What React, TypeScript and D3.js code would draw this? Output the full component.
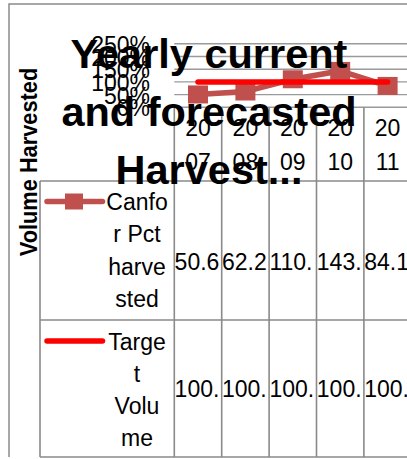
import React from "react";
import * as d3 from "d3";

const years = ["2007", "2008", "2009", "2010", "2011"];
const canforPct = [50.6, 62.2, 110.4, 143.2, 84.1];
const targetPct = [100.0, 100.0, 100.0, 100.0, 100.0];
const seriesNames = ["Canfor Pct harvested", "Target Volume"];
const seriesWrapped = [["Canfo", "r Pct", "harve", "sted"], ["Targe", "t", "Volu", "me"]];
const yTicks = [0, 50, 100, 150, 200, 250];
const titleLines = ["Yearly current", "and forecasted", "Harvest..."];
const yAxisTitle = "Volume Harvested";

const FONT = '"Liberation Sans", Arial, sans-serif';
const C1 = "#C0504D";
const C2 = "#FF0000";
const GRID = "#9a9a9a";
const LINE = "#8a8a8a";

let ctx: CanvasRenderingContext2D | null = null;
function measure(t: string, size: number) {
  if (!ctx) ctx = document.createElement("canvas").getContext("2d");
  if (!ctx) return t.length * size * 0.55;
  ctx.font = `${size}px ${FONT}`;
  return ctx.measureText(t).width;
}
function fit(t: string, size: number, w: number) {
  let s = t;
  while (s.length > 0 && measure(s, size) > w) s = s.slice(0, -1);
  return s;
}

export default function App() {
  const W = 407, H = 459;
  const x = d3.scaleBand<string>().domain(years).range([174.3, 411.3]).padding(0);
  const y = d3.scaleLinear().domain([0, 250]).range([107.3, 43.8]);
  const bw = x.bandwidth();
  const cx = (d: string) => (x(d) as number) + bw / 2;

  const line = d3.line<number>().x((_, i) => cx(years[i])).y((v) => y(v));

  const tableLeft = 40;
  const rowTop = [181, 320];
  const rowBottom = 457;
  const fs = 23;
  const valueBase = [270, 397];
  const legendY = [201.5, 341];
  const lineStep = 32.3;

  const colEdges = [...years.map((d) => x(d) as number), 411.3];

  return (
    <svg width={W} height={H} style={{ position: "absolute", left: 0, top: 0, background: "#fff" }}>
      <rect x={0} y={0} width={W} height={H} fill="#fff" />
      {/* outer border */}
      <path d={`M9,${rowBottom} V4 H${W + 5}`} fill="none" stroke={LINE} strokeWidth={1.5} />
      {/* gridlines */}
      {yTicks.map((t) => (
        <line key={t} x1={174.3} x2={W + 5} y1={y(t)} y2={y(t)} stroke={GRID} strokeWidth={1.4} />
      ))}
      {/* table lines */}
      {colEdges.map((e, i) => (
        <line key={"v" + i} x1={e} x2={e} y1={y(0)} y2={rowBottom} stroke={LINE} strokeWidth={1.6} />
      ))}
      <line x1={tableLeft} x2={tableLeft} y1={rowTop[0]} y2={rowBottom} stroke={LINE} strokeWidth={1.6} />
      {rowTop.map((r, i) => (
        <line key={"h" + i} x1={tableLeft} x2={W + 5} y1={r} y2={r} stroke={LINE} strokeWidth={1.6} />
      ))}
      <line x1={tableLeft} x2={W + 5} y1={rowBottom} y2={rowBottom} stroke={LINE} strokeWidth={1.6} />
      {/* y tick labels */}
      {yTicks.map((t) => (
        <text key={"t" + t} x={150} y={y(t) + 9} textAnchor="end" fontFamily={FONT} fontSize={fs} fill="#000">
          {t + "%"}
        </text>
      ))}
      {/* year header */}
      {years.map((d) => (
        <g key={"yr" + d}>
          <text x={cx(d)} y={136} textAnchor="middle" fontFamily={FONT} fontSize={fs}>{d.slice(0, 2)}</text>
          <text x={cx(d)} y={170} textAnchor="middle" fontFamily={FONT} fontSize={fs}>{d.slice(2)}</text>
        </g>
      ))}
      {/* table values */}
      {[canforPct, targetPct].map((vals, r) =>
        vals.map((v, i) => (
          <text key={`val${r}-${i}`} x={(x(years[i]) as number) + 0.3} y={valueBase[r]} fontFamily={FONT} fontSize={fs}>
            {fit(v.toFixed(1), fs, bw - 0.5)}
          </text>
        ))
      )}
      {/* legend keys + series names */}
      {seriesNames.map((name, r) => (
        <g key={"lg" + name}>
          <line x1={47} x2={102.5} y1={legendY[r]} y2={legendY[r]} stroke={r === 0 ? C1 : C2} strokeWidth={5.5} strokeLinecap="round" />
          {r === 0 && <rect x={65} y={legendY[r] - 8} width={18} height={16} fill={C1} />}
          {seriesWrapped[r].map((ln, k) => (
            <text key={k} x={137} y={legendY[r] + 8.5 + k * lineStep} textAnchor="middle" fontFamily={FONT} fontSize={fs}>
              {ln}
            </text>
          ))}
        </g>
      ))}
      {/* series */}
      <path d={line(canforPct) || ""} fill="none" stroke={C1} strokeWidth={5.5} />
      {canforPct.map((v, i) => (
        <rect key={"m" + i} x={cx(years[i]) - 10} y={y(v) - 9} width={20} height={18} fill={C1} />
      ))}
      <path d={line(targetPct) || ""} fill="none" stroke={C2} strokeWidth={5.5} strokeLinecap="round" />
      {/* title */}
      {titleLines.map((t, i) => (
        <text key={"ti" + i} x={209} y={68 + i * 58} textAnchor="middle" fontFamily={FONT} fontWeight="bold" fontSize={41.5} fill="#000">
          {t}
        </text>
      ))}
      <text transform="translate(37,162) rotate(-90) scale(1,1.08)" textAnchor="middle" fontFamily={FONT} fontWeight="bold" fontSize={21.8} fill="#000">
        {yAxisTitle}
      </text>
    </svg>
  );
}
